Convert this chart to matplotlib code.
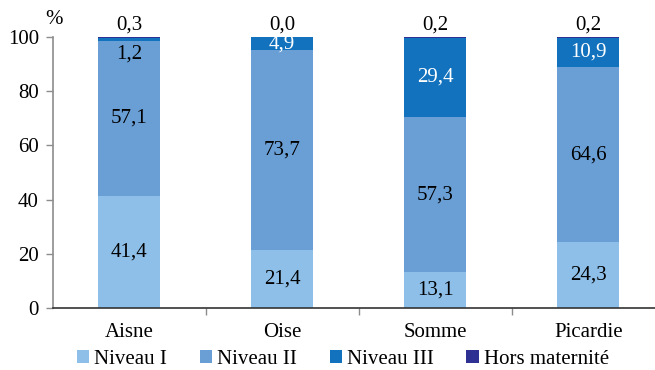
import matplotlib
matplotlib.use('Agg')
import matplotlib.pyplot as plt
from matplotlib.patches import Patch
import numpy as np

categories = ['Aisne', 'Oise', 'Somme', 'Picardie']
niveau1 = [41.4, 21.4, 13.1, 24.3]
niveau2 = [57.1, 73.7, 57.3, 64.6]
niveau3 = [1.2, 4.9, 29.4, 10.9]
hors = [0.3, 0.0, 0.2, 0.2]
series_names = ['Niveau I', 'Niveau II', 'Niveau III', 'Hors maternité']
colors = ['#8ebfe8', '#6a9fd6', '#1272be', '#2e3192']
y_ticks = [0, 20, 40, 60, 80, 100]

plt.rcParams['font.family'] = ['Liberation Serif', 'DejaVu Serif']

W, H = 655, 370
fig = plt.figure(figsize=(W / 100, H / 100), dpi=100)
left_px, right_px, bottom_px, top_px = 52.7, 655, 308, 37
ax = fig.add_axes([left_px / W, (H - bottom_px) / H,
                   (right_px - left_px) / W, (bottom_px - top_px) / H])

x = np.arange(len(categories))
width = 0.405
series = [niveau1, niveau2, niveau3, hors]
bottoms = np.zeros(len(categories))
for vals, col in zip(series, colors):
    ax.bar(x, vals, width, bottom=bottoms, color=col, linewidth=0, zorder=2)
    bottoms = bottoms + np.array(vals)

fs = 15
# value labels
b = np.zeros(len(categories))
for si, vals in enumerate(series):
    for i, v in enumerate(vals):
        if si == 3:
            ax.text(x[i], 104.3, f'{v:.1f}'.replace('.', ','), ha='center', va='center',
                    fontsize=fs, color='black', clip_on=False)
        else:
            yc = b[i] + v / 2
            color = 'white' if si == 2 else 'black'
            if v < 2:
                yc = b[i] - 4.8
                color = 'black'
            ax.text(x[i], yc, f'{v:.1f}'.replace('.', ','), ha='center', va='center',
                    fontsize=fs, color=color)
    b = b + np.array(vals)

ax.set_ylim(0, 100)
ax.set_xlim(-0.5, -0.5 + (right_px - left_px) / 153)
ax.set_yticks(y_ticks)
ax.set_yticklabels([str(t) for t in y_ticks], fontsize=fs)
ax.set_xticks(x)
ax.set_xticklabels(categories, fontsize=fs)
ax.set_xticks([0.5, 1.5, 2.5], minor=True)
ax.tick_params(axis='x', which='major', length=0, pad=11)
ax.tick_params(axis='x', which='minor', length=5, color='#8c8c8c', width=1)
ax.tick_params(axis='y', length=5, color='#8c8c8c', width=1, pad=5)

for s in ['top', 'right']:
    ax.spines[s].set_visible(False)
ax.spines['left'].set_color('#8c8c8c')
ax.spines['bottom'].set_color('#333333')
ax.spines['left'].set_linewidth(1.2)
ax.spines['bottom'].set_linewidth(1.2)

fig.text(45 / W, (H - 19) / H, '%', fontsize=fs, ha='left', va='center')

handles = [Patch(facecolor=c, edgecolor='none') for c in colors]
fig.legend(handles, series_names, loc='center', bbox_to_anchor=(343 / W, 11 / H),
           ncol=4, frameon=False, fontsize=fs, handlelength=0.6, handleheight=0.6,
           handletextpad=0.25, columnspacing=1.55, borderaxespad=0)

fig.savefig('out.png', dpi=100)
